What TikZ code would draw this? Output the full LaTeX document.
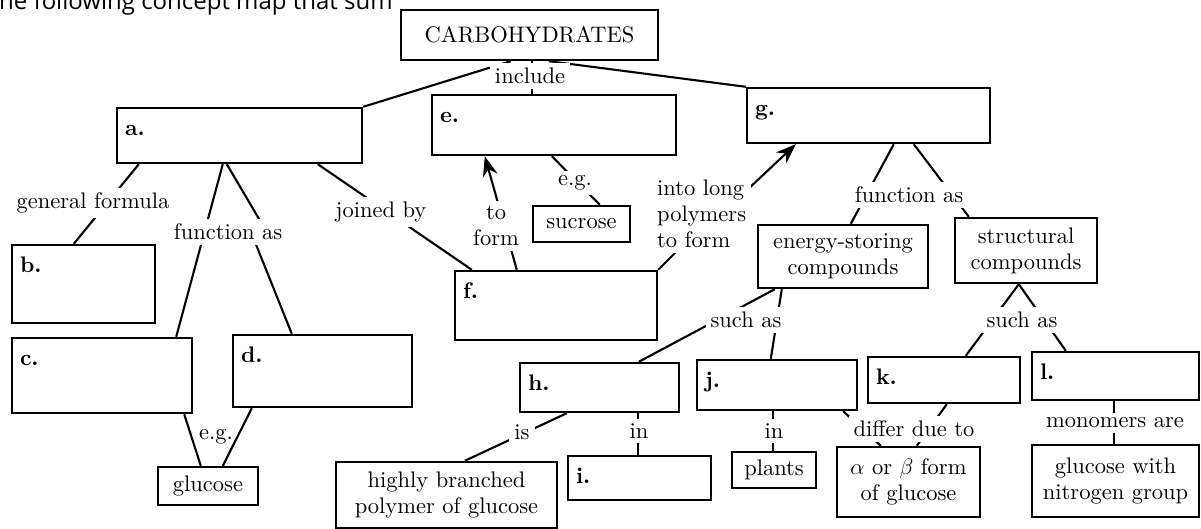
\documentclass[tikz,border=0pt]{standalone}
\usepackage{fix-cm}
\usepackage{fontspec}
\setmainfont{lmroman10-regular}[Extension=.otf, BoldFont=lmroman10-bold, ItalicFont=lmroman10-italic, BoldItalicFont=lmroman10-bolditalic]
\newfontfamily\topfont{Open Sans}
\usetikzlibrary{arrows.meta}
\tikzset{
  every node/.style={font=\fontsize{22.5}{26}\selectfont},
  box/.style={draw, line width=2.4pt, inner sep=0pt, align=center},
  letter/.style={anchor=base west, inner sep=0pt, font=\fontsize{22.5}{26}\selectfont\bfseries},
  conn/.style={line width=2.1pt},
  arr/.style={line width=2.1pt, -{Stealth[length=20pt,width=15pt]}},
  lbl/.style={fill=white, inner xsep=5pt, inner ysep=5pt, align=center},
  plain/.style={inner sep=1pt, align=center}
}
\begin{document}
\begin{tikzpicture}[x=1pt,y=-1pt]
\useasboundingbox (0,0) rectangle (1201,529);
\clip (0,0) rectangle (1201,529);
\fill[white] (0,0) rectangle (1201,529);

% cropped heading line
\node[anchor=base west, inner sep=0pt, font=\topfont\fontsize{24}{28}\selectfont] (top) at (-1,10) {he following concept map that sum};

% boxes
\node[box, minimum width=257pt, minimum height=50pt] (carb) at (529.5,35) {CARBOHYDRATES};
\node[box, minimum width=245pt, minimum height=55pt] (a) at (239.5,135.5) {};
\node[box, minimum width=244pt, minimum height=60pt] (e) at (554,125) {};
\node[box, minimum width=243pt, minimum height=55pt] (g) at (868.5,115.5) {};
\node[box, minimum width=143pt, minimum height=78pt] (b) at (83.5,284) {};
\node[box, minimum width=180pt, minimum height=75pt] (c) at (102,375.5) {};
\node[box, minimum width=179pt, minimum height=72pt] (d) at (322.5,371) {};
\node[box, minimum width=100pt, minimum height=38pt] (glucose) at (208,486) {glucose};
\node[box, minimum width=202pt, minimum height=69pt] (f) at (556,305.5) {};
\node[box, minimum width=97pt, minimum height=36pt] (sucrose) at (581.5,224) {sucrose};
\node[box, minimum width=170pt, minimum height=63pt] (energy) at (843,256.5) {energy-storing\\compounds};
\node[box, minimum width=142pt, minimum height=65pt] (structural) at (1026,250.5) {structural\\compounds};
\node[box, minimum width=159pt, minimum height=49pt] (h) at (599.5,387.5) {};
\node[box, minimum width=160pt, minimum height=50pt] (j) at (777,385) {};
\node[box, minimum width=152pt, minimum height=46pt] (k) at (944,380) {};
\node[box, minimum width=167pt, minimum height=48pt] (l) at (1115.5,376) {};
\node[box, minimum width=221pt, minimum height=66pt] (highly) at (446.5,495) {highly branched\\polymer of glucose};
\node[box, minimum width=143pt, minimum height=44pt] (i) at (639.5,478) {};
\node[box, minimum width=84pt, minimum height=36pt] (plants) at (774,470) {plants};
\node[box, minimum width=143pt, minimum height=70pt] (alpha) at (908.5,482) {$\alpha$ or $\beta$ form\\of glucose};
\node[box, minimum width=167pt, minimum height=72pt] (glun) at (1115.5,481) {glucose with\\nitrogen group};

% letters
\foreach \n in {a,b,c,d,e,f,g,h,i,j,k,l}{
  \node[letter] (let\n) at ([shift={(9,29)}]\n.north west) {\n.};
}

% connectors
\draw[conn] ([xshift=111pt]carb.south west) -- (a.north east);
\draw[conn] ([xshift=149pt]carb.south west) -- (g.north west);
\draw[conn] ([xshift=132pt]carb.south west) -- ([xshift=101pt]e.north west);
\draw[conn] ([xshift=23pt]a.south west) -- ([xshift=63pt]b.north west);
\draw[conn] ([xshift=107pt]a.south west) -- ([xshift=-17pt]c.north east);
\draw[conn] ([xshift=111pt]a.south west) -- (262,224) -- (255,242) -- ([xshift=60pt]d.north west);
\draw[conn] ([xshift=-9pt]c.south east) -- ([xshift=44pt]glucose.north west);
\draw[conn] ([xshift=20pt]d.south west) -- ([xshift=66pt]glucose.north west);
\draw[conn] ([xshift=202pt]a.south west) -- ([xshift=18pt]f.north west);
\draw[arr] ([xshift=63pt]f.north west) -- ([xshift=54pt]e.south west);
\draw[conn] ([xshift=121pt]e.south west) -- ([xshift=68pt]sucrose.north west);
\draw[arr] (f.north east) -- (676,252) -- (746,191) -- ([xshift=50pt]g.south west);
\draw[conn] ([xshift=148pt]g.south west) -- ([xshift=94pt]energy.north west);
\draw[conn] ([xshift=168pt]g.south west) -- ([xshift=15pt]structural.north west);
\draw[conn] ([xshift=18pt]energy.south west) -- ([xshift=120pt]h.north west);
\draw[conn] ([xshift=25pt]energy.south west) -- ([xshift=75pt]j.north west);
\draw[conn] ([xshift=65pt]structural.south west) -- ([xshift=99pt]k.north west);
\draw[conn] ([xshift=65pt]structural.south west) -- ([xshift=35pt]l.north west);
\draw[conn] ([xshift=48pt]h.south west) -- ([xshift=130pt]highly.north west);
\draw[conn] ([xshift=119pt]h.south west) -- ([xshift=71pt]i.north west);
\draw[conn] ([xshift=77pt]j.south west) -- ([xshift=42pt]plants.north west);
\draw[conn] ([xshift=-15pt]j.south east) -- ([xshift=45pt]alpha.north west);
\draw[conn] ([xshift=80pt]k.south west) -- ([xshift=81pt]alpha.north west);
\draw[conn] ([xshift=83.5pt]l.south west) -- ([xshift=83.5pt]glun.north west);

% connector labels
\node[lbl] (linclude) at (530,76) {include};
\node[lbl] (lgf) at (93,203) {general formula};
\node[lbl] (lfa1) at (228,232) {function as};
\node[lbl] (ljb) at (381,212) {joined by};
\node[plain] (leg1) at (216,437) {e.g.};
\node[lbl] (ltf) at (496,226) {to\\form};
\node[lbl] (leg2) at (575,183) {e.g.};
\node[lbl, anchor=west, align=left] (lilp) at (652,214) {into long\\polymers\\to form};
\node[lbl] (lfa2) at (909,195) {function as};
\node[lbl] (lsa1) at (746,320) {such as};
\node[lbl] (lsa2) at (1022,320) {such as};
\node[lbl] (lis) at (522,432) {is};
\node[lbl] (lin1) at (639,431) {in};
\node[lbl] (lin2) at (774,431) {in};
\node[lbl] (ldd) at (914,429) {differ due to};
\node[lbl] (lma) at (1115,423) {monomers are};
\end{tikzpicture}
\end{document}
